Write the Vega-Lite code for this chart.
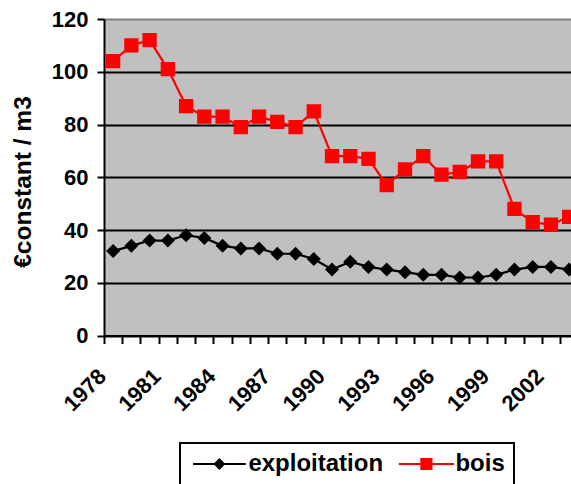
{
  "$schema": "https://vega.github.io/schema/vega-lite/v6.json",
  "width": 467,
  "height": 316.5,
  "autosize": {"type": "none"},
  "padding": {"left": 104, "top": 19, "right": 0, "bottom": 148.5},
  "background": "white",
  "config": {"font": "Liberation Sans", "view": {"fill": "#C0C0C0", "stroke": null}},
  "data": {"values": [
    {"year": 1978, "series": "exploitation", "value": 32},
    {"year": 1979, "series": "exploitation", "value": 34},
    {"year": 1980, "series": "exploitation", "value": 36},
    {"year": 1981, "series": "exploitation", "value": 36},
    {"year": 1982, "series": "exploitation", "value": 38},
    {"year": 1983, "series": "exploitation", "value": 37},
    {"year": 1984, "series": "exploitation", "value": 34},
    {"year": 1985, "series": "exploitation", "value": 33},
    {"year": 1986, "series": "exploitation", "value": 33},
    {"year": 1987, "series": "exploitation", "value": 31},
    {"year": 1988, "series": "exploitation", "value": 31},
    {"year": 1989, "series": "exploitation", "value": 29},
    {"year": 1990, "series": "exploitation", "value": 25},
    {"year": 1991, "series": "exploitation", "value": 28},
    {"year": 1992, "series": "exploitation", "value": 26},
    {"year": 1993, "series": "exploitation", "value": 25},
    {"year": 1994, "series": "exploitation", "value": 24},
    {"year": 1995, "series": "exploitation", "value": 23},
    {"year": 1996, "series": "exploitation", "value": 23},
    {"year": 1997, "series": "exploitation", "value": 22},
    {"year": 1998, "series": "exploitation", "value": 22},
    {"year": 1999, "series": "exploitation", "value": 23},
    {"year": 2000, "series": "exploitation", "value": 25},
    {"year": 2001, "series": "exploitation", "value": 26},
    {"year": 2002, "series": "exploitation", "value": 26},
    {"year": 2003, "series": "exploitation", "value": 25},
    {"year": 1978, "series": "bois", "value": 104},
    {"year": 1979, "series": "bois", "value": 110},
    {"year": 1980, "series": "bois", "value": 112},
    {"year": 1981, "series": "bois", "value": 101},
    {"year": 1982, "series": "bois", "value": 87},
    {"year": 1983, "series": "bois", "value": 83},
    {"year": 1984, "series": "bois", "value": 83},
    {"year": 1985, "series": "bois", "value": 79},
    {"year": 1986, "series": "bois", "value": 83},
    {"year": 1987, "series": "bois", "value": 81},
    {"year": 1988, "series": "bois", "value": 79},
    {"year": 1989, "series": "bois", "value": 85},
    {"year": 1990, "series": "bois", "value": 68},
    {"year": 1991, "series": "bois", "value": 68},
    {"year": 1992, "series": "bois", "value": 67},
    {"year": 1993, "series": "bois", "value": 57},
    {"year": 1994, "series": "bois", "value": 63},
    {"year": 1995, "series": "bois", "value": 68},
    {"year": 1996, "series": "bois", "value": 61},
    {"year": 1997, "series": "bois", "value": 62},
    {"year": 1998, "series": "bois", "value": 66},
    {"year": 1999, "series": "bois", "value": 66},
    {"year": 2000, "series": "bois", "value": 48},
    {"year": 2001, "series": "bois", "value": 43},
    {"year": 2002, "series": "bois", "value": 42},
    {"year": 2003, "series": "bois", "value": 45}
  ]},
  "encoding": {
    "x": {
      "field": "year", "type": "quantitative",
      "scale": {"domain": [1977.5, 2003.1], "nice": false, "zero": false},
      "axis": {
        "values": [1977.5, 1978.5, 1979.5, 1980.5, 1981.5, 1982.5, 1983.5, 1984.5, 1985.5, 1986.5, 1987.5, 1988.5, 1989.5, 1990.5, 1991.5, 1992.5, 1993.5, 1994.5, 1995.5, 1996.5, 1997.5, 1998.5, 1999.5, 2000.5, 2001.5, 2002.5],
        "labelExpr": "((datum.value - 1977.5) % 3 === 0) ? format(datum.value + 0.5, 'd') : ''",
        "title": null, "grid": false,
        "domainColor": "black", "domainWidth": 2,
        "tickColor": "black", "tickWidth": 2, "tickSize": 8,
        "labelAngle": -45, "labelAlign": "right", "labelBaseline": "middle",
        "labelFontSize": 22, "labelFontWeight": "bold", "labelColor": "black",
        "labelPadding": 29, "labelOffset": -2,
        "labelOverlap": false, "labelFlush": false, "labelBound": false
      }
    },
    "y": {
      "field": "value", "type": "quantitative",
      "scale": {"domain": [0, 120], "nice": false},
      "axis": {
        "values": [0, 20, 40, 60, 80, 100, 120],
        "title": "€constant / m3",
        "titleFontSize": 24.5, "titleFontWeight": "bold", "titleColor": "black",
        "titleX": -74, "titleY": 162.5, "titleBaseline": "alphabetic", "titleAngle": 270, "titleAlign": "center",
        "grid": true,
        "gridColor": {"condition": {"test": "datum.value === 120", "value": "#808080"}, "value": "black"},
        "gridWidth": 2, "gridOpacity": 1,
        "domainColor": "black", "domainWidth": 2,
        "tickColor": "black", "tickWidth": 2, "tickSize": 7,
        "labelFontSize": 22, "labelFontWeight": "bold", "labelColor": "black",
        "labelPadding": 9, "labelFlush": false, "labelBound": false
      }
    },
    "color": {
      "field": "series", "type": "nominal",
      "scale": {"domain": ["exploitation", "bois"], "range": ["#000000", "#FF0000"]},
      "legend": {
        "orient": "none", "legendX": 76, "legendY": 424, "direction": "horizontal", "title": null,
        "padding": 9, "strokeColor": "black",
        "labelFont": "Liberation Sans", "labelFontSize": 24, "labelFontWeight": "bold", "labelColor": "black",
        "symbolSize": 144, "symbolOffset": 18.4, "labelOffset": 17, "columnPadding": 10,
        "symbolOpacity": 1, "symbolStrokeWidth": 2,
        "encode": {
          "legend": {"update": {"strokeWidth": {"value": 2}}},
          "symbols": {"update": {
            "shape": {"signal": "datum.value === 'bois' ? 'M-4.6,0L4.6,0M-0.85,-0.85L0.85,-0.85L0.85,0.85L-0.85,0.85Z' : 'M-4.4,0L4.4,0M-0.75,0L0,-0.75L0.75,0L0,0.75Z'"},
            "fill": {"signal": "datum.value === 'bois' ? '#FF0000' : '#000000'"},
            "stroke": {"signal": "datum.value === 'bois' ? '#FF0000' : '#000000'"},
            "strokeWidth": {"value": 2},
            "size": {"value": 144},
            "opacity": {"value": 1}
          }}
        }
      }
    }
  },
  "layer": [
    {"mark": {"type": "line", "clip": true, "strokeWidth": 2.2}},
    {
      "transform": [{"filter": "datum.series === 'exploitation'"}],
      "mark": {"type": "point", "shape": "diamond", "filled": true, "opacity": 1, "size": 196, "clip": true}
    },
    {
      "transform": [{"filter": "datum.series === 'bois'"}],
      "mark": {"type": "point", "shape": "square", "filled": true, "opacity": 1, "size": 205, "clip": true}
    }
  ]
}
